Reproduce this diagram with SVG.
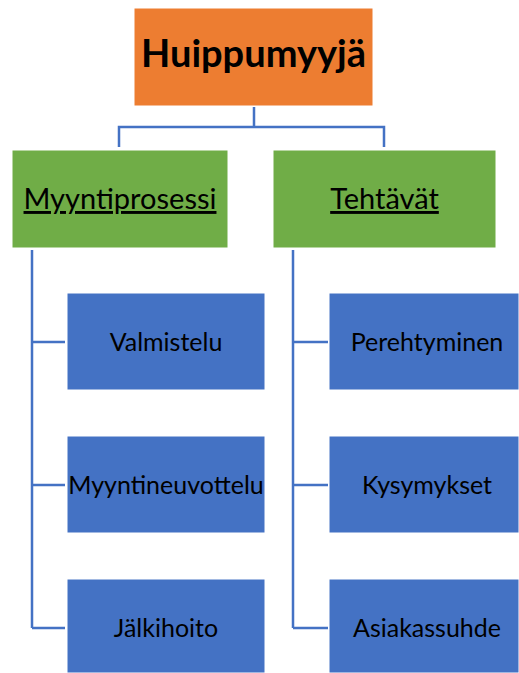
<svg xmlns="http://www.w3.org/2000/svg" width="519" height="673" viewBox="0 0 519 673">
<style>
.box{stroke:#ffffff;stroke-width:1}
.top{fill:#ED7D31}
.mid{fill:#70AD47}
.leaf{fill:#4472C4}
.conn{fill:none;stroke:#4472C4;stroke-width:2.5}
text{font-family:Lato,"Open Sans",sans-serif;fill:#000000;text-anchor:middle}
.t1{font-size:38px;font-weight:bold}
.t2{font-size:29px;text-decoration:underline}
.t3{font-size:25px}
</style>
<rect width="519" height="673" fill="#ffffff"/>
<g id="connectors">
<path class="conn" d="M254 107 V127 M119 147 V127 H384 V147"/>
<path class="conn" d="M32 250 V628 M32 342 H65 M32 485 H65 M32 628 H65"/>
<path class="conn" d="M293 250 V628 M293 342 H328 M293 485 H328 M293 628 H328"/>
</g>
<g id="n-huippumyyja"><rect class="box top" x="134" y="8" width="239" height="98"/><text class="t1" x="253.5" y="67">Huippumyyjä</text></g>
<g id="n-myyntiprosessi"><rect class="box mid" x="12" y="150" width="216" height="98"/><text class="t2" x="120" y="209">Myyntiprosessi</text></g>
<g id="n-tehtavat"><rect class="box mid" x="273" y="150" width="223" height="98"/><text class="t2" x="384.5" y="209">Tehtävät</text></g>
<g id="n-valmistelu"><rect class="box leaf" x="67" y="293" width="198" height="97"/><text class="t3" x="166" y="351">Valmistelu</text></g>
<g id="n-myyntineuvottelu"><rect class="box leaf" x="67" y="436" width="198" height="97"/><text class="t3" x="166" y="494">Myyntineuvottelu</text></g>
<g id="n-jalkihoito"><rect class="box leaf" x="67" y="579" width="198" height="94"/><text class="t3" x="166" y="637">Jälkihoito</text></g>
<g id="n-perehtyminen"><rect class="box leaf" x="329" y="293" width="190" height="97"/><text class="t3" x="427" y="351">Perehtyminen</text></g>
<g id="n-kysymykset"><rect class="box leaf" x="329" y="436" width="190" height="97"/><text class="t3" x="427" y="494">Kysymykset</text></g>
<g id="n-asiakassuhde"><rect class="box leaf" x="329" y="579" width="190" height="94"/><text class="t3" x="427" y="637">Asiakassuhde</text></g>
</svg>
